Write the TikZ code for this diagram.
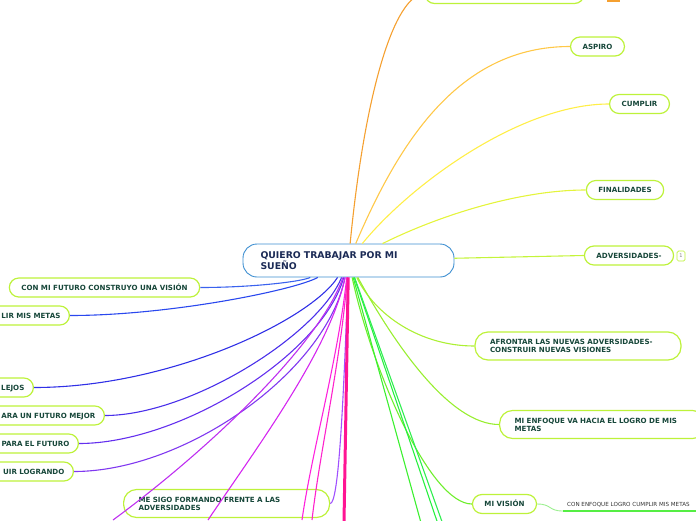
\documentclass[tikz,border=0pt]{standalone}
\usepackage{fontspec}
\setmainfont{DejaVu Sans}
\definecolor{lime}{HTML}{BDF23A}
\definecolor{txtc}{HTML}{17473A}
\definecolor{navy}{HTML}{1B2A55}
\definecolor{cblue}{HTML}{3D8FD1}
\definecolor{ctop}{HTML}{F5A030}
\definecolor{casp}{HTML}{FFC848}
\definecolor{ccum}{HTML}{FFEE48}
\definecolor{cfin}{HTML}{E4F43C}
\definecolor{cadv}{HTML}{C4F43A}
\definecolor{cafr}{HTML}{ACF034}
\definecolor{cenf}{HTML}{98EE30}
\definecolor{cvis}{HTML}{6EEE2C}
\definecolor{cgA}{HTML}{3CF030}
\definecolor{cgB}{HTML}{28F040}
\definecolor{cgC}{HTML}{30EE50}
\definecolor{cfut}{HTML}{3A62EE}
\definecolor{clir}{HTML}{2A48EE}
\definecolor{clej}{HTML}{3030E6}
\definecolor{cmej}{HTML}{4A30EA}
\definecolor{cpar}{HTML}{6430EE}
\definecolor{clog}{HTML}{8038F0}
\definecolor{cmA}{HTML}{BE30F0}
\definecolor{cmB}{HTML}{D426F0}
\definecolor{csigo}{HTML}{A050FF}
\definecolor{cmC}{HTML}{FF22DD}
\definecolor{cmD}{HTML}{FF22CC}
\definecolor{cpink}{HTML}{FF1493}
\definecolor{vlinkc}{HTML}{9BEF8F}
\definecolor{ulinec}{HTML}{55EE44}
\definecolor{subc}{HTML}{333333}
\begin{document}
\begin{tikzpicture}[x=1pt,y=-1pt,
  child/.style={draw=lime, line width=1.2pt, fill=white, rounded corners=9.5pt, text=txtc,
    font=\fontsize{7.1}{8}\selectfont\bfseries, inner xsep=12pt, inner ysep=0pt,
    minimum height=19pt, text height=5.2pt, text depth=0pt},
  twoline/.style={draw=lime, line width=1.2pt, fill=white, rounded corners=13pt, text=txtc,
    font=\fontsize{7.1}{8}\selectfont\bfseries, inner xsep=15pt, inner ysep=0pt,
    minimum height=28pt, text width=176pt, align=left},
  cutbox/.style={child, anchor=east, text width=110pt, align=right, inner xsep=9pt},
  central/.style={draw=cblue, line width=0.9pt, fill=white, rounded corners=14pt, text=navy,
    font=\fontsize{9.3}{10.5}\selectfont\bfseries, inner xsep=17.5pt, inner ysep=0pt,
    minimum height=33pt, text width=176pt, align=left},
  onebox/.style={draw=lime, line width=0.7pt, rounded corners=1.5pt, minimum width=8pt,
    minimum height=10pt, inner sep=0pt, font=\fontsize{5}{5}\selectfont, text=gray},
  subtext/.style={font=\fontsize{5.6}{6}\selectfont, text=subc, inner xsep=4pt, inner ysep=4.5pt,
    text height=4.1pt, text depth=0pt},
  conn/.style={line width=1.1pt},
  uline/.style={draw=ulinec, line width=2pt},
  vlink/.style={draw=vlinkc, line width=0.9pt},
]
\useasboundingbox (0,0) rectangle (696,520);
\clip (0,0) rectangle (696,520);

% central node
\node[central] (c) at (348.5,260.5) {QUIERO TRABAJAR POR MI\\SUEÑO};

% right side
\node[child, minimum width=159pt] (top) at (504.5,-6) {};
\node[child] (asp) at (597.5,46.5) {ASPIRO};
\node[child] (cum) at (639.5,104) {CUMPLIR};
\node[child] (fin) at (625,190) {FINALIDADES};
\node[child] (adv) at (629,255.5) {ADVERSIDADES-};
\node[onebox] (one) at (681,256) {1};
\node[twoline] (afr) at (578,346) {AFRONTAR LAS NUEVAS ADVERSIDADES-\\CONSTRUIR NUEVAS VISIONES};
\node[twoline, anchor=west] (enf) at (499,424.5) {MI ENFOQUE VA HACIA EL LOGRO DE MIS\\METAS};
\node[child] (vis) at (504.5,504) {MI VISIÓN};
\node[subtext, anchor=south west] (v1) at (563,511) {CON ENFOQUE LOGRO CUMPLIR MIS METAS};

% left side
\node[child] (fut) at (104.5,287.5) {CON MI FUTURO CONSTRUYO UNA VISIÓN};
\node[cutbox] (lir) at (70,315.5) {LIR MIS METAS};
\node[cutbox] (lej) at (34,387.5) {LEJOS};
\node[cutbox] (mej) at (105,415.5) {ARA UN FUTURO MEJOR};
\node[cutbox] (par) at (79,443.5) {PARA EL FUTURO};
\node[cutbox] (log) at (74,471.5) {UIR LOGRANDO};
\node[twoline, anchor=west] (sigo) at (123,503.5) {ME SIGO FORMANDO FRENTE A LAS\\ADVERSIDADES};

% free ends at the lower edge
\coordinate (gA) at (423,530);
\coordinate (gB) at (440,530);
\coordinate (gC) at (445,530);
\coordinate (mA) at (113,520);
\coordinate (mB) at (208,520);
\coordinate (mC) at (302,520);
\coordinate (mD) at (312,520);
\coordinate (pk) at (344,522);
\coordinate (orA) at (607,0);
\coordinate (orB) at (620,0);

% connectors upward / right
\draw[conn, draw=ctop] (c) .. controls (365,90) and (395,-6) .. (top.west);
\draw[conn, draw=casp] (c) .. controls (400,140) and (460,46.5) .. (asp.west);
\draw[conn, draw=ccum] (c) .. controls (410,185) and (520,104) .. (cum.west);
\draw[conn, draw=cfin] (c) .. controls (440,215) and (520,190) .. (fin.west);
\draw[conn, draw=cadv] (c) -- (adv.west);
\draw[conn, draw=cafr] (c) .. controls (375,315) and (420,346) .. (afr.west);
\draw[conn, draw=cenf] (c) .. controls (395,345) and (450,424.5) .. (enf.west);
\draw[conn, draw=cvis] (c) .. controls (372,370) and (430,504) .. (vis.west);
\draw[conn, draw=cgA] (c) -- (gA);
\draw[conn, draw=cgB] (c) -- (gB);
\draw[conn, draw=cgC] (c) -- (gC);
\draw[vlink] (vis.east) .. controls (552,504) and (548,511) .. (v1.south west);
\draw[uline] (v1.south west) -- ([xshift=8pt]v1.south east);
\draw[draw=ctop, line width=3pt] (orA) -- (orB);

% connectors left / down
\draw[conn, draw=cfut] (c) .. controls (300,282) and (250,287.5) .. (fut.east);
\draw[conn, draw=clir] (c) .. controls (295,290) and (170,315.5) .. (lir.east);
\draw[conn, draw=clej] (c) .. controls (310,320) and (170,387.5) .. (lej.east);
\draw[conn, draw=cmej] (c) .. controls (318,335) and (190,415.5) .. (mej.east);
\draw[conn, draw=cpar] (c) .. controls (322,355) and (180,443.5) .. (par.east);
\draw[conn, draw=clog] (c) .. controls (326,372) and (185,471.5) .. (log.east);
\draw[conn, draw=cmA] (c) .. controls (322,340) and (215,445) .. (mA);
\draw[conn, draw=cmB] (c) .. controls (330,350) and (255,450) .. (mB);
\draw[conn, draw=csigo] (c) .. controls (343,420) and (338,503.5) .. (sigo.east);
\draw[conn, draw=cmC] (c) .. controls (338,360) and (312,450) .. (mC);
\draw[conn, draw=cmD] (c) .. controls (341,360) and (320,450) .. (mD);
\draw[draw=cpink, line width=3pt] (c) -- (pk);
\end{tikzpicture}
\end{document}
